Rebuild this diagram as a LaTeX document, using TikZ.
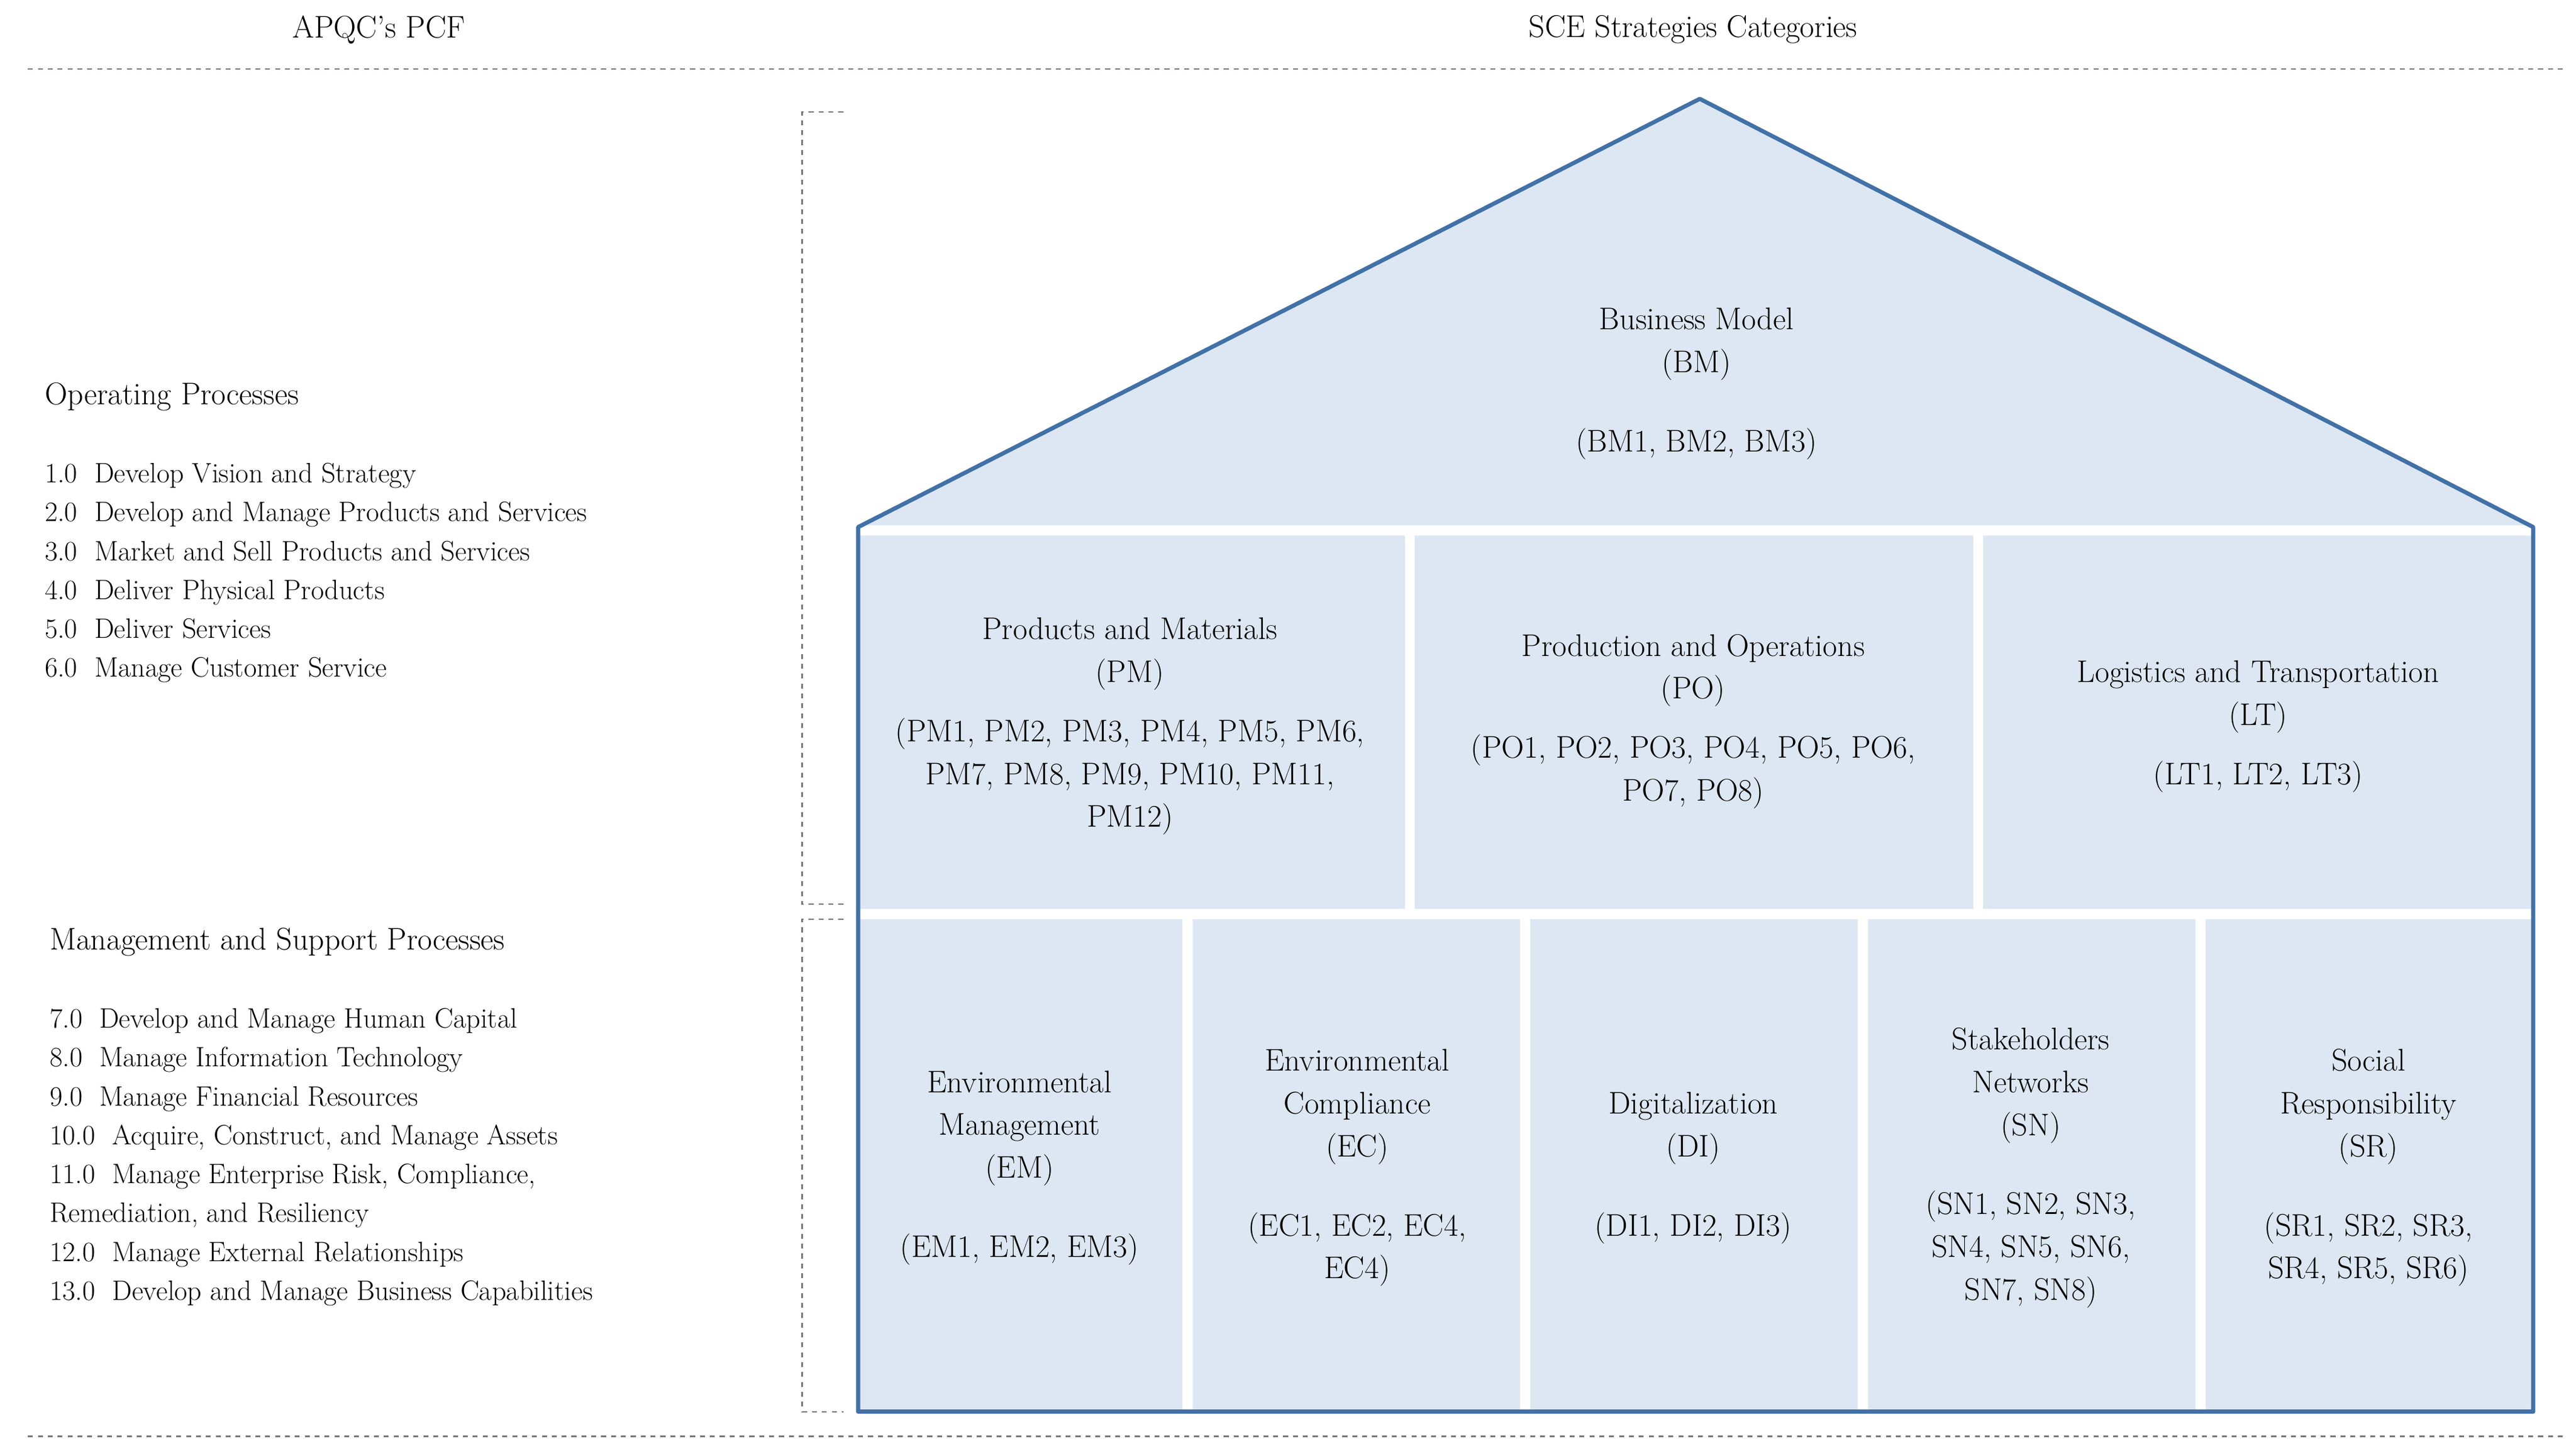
\documentclass[tikz,border=0pt]{standalone}
\usepackage{tikz}
\usetikzlibrary{positioning}
\definecolor{houseblue}{RGB}{65,113,166}
\definecolor{housefill}{RGB}{221,231,243}
\definecolor{dashgray}{RGB}{120,120,120}
\begin{document}
\begin{tikzpicture}[x=1pt,y=-1pt,
cellnode/.style={align=center, font=\fontsize{19}{26}\selectfont, inner sep=0pt},
listnode/.style={align=left, anchor=north west, font=\fontsize{17}{23.6}\selectfont, inner sep=0pt},
headnode/.style={font=\fontsize{19}{24}\selectfont, inner sep=0pt},
bracket/.style={dashgray, dashed, thick},
gap/.style={white, line width=6pt},
]
\useasboundingbox (0,0) rectangle (1564,882);
%Headers
\node[headnode] (pcf) at (230,18) {APQC's PCF};
\node[headnode] (sce) at (1028,18) {SCE Strategies Categories};
\draw[bracket] (17,42) -- (1558,42);
\draw[bracket] (17,872) -- (1558,872);

%House
\fill[housefill] (521,857) -- (521,320) -- (1032,60) -- (1538,320) -- (1538,857) -- cycle;
\draw[gap] (521,322) -- (1538,322);
\draw[gap] (521,555) -- (1538,555);
\draw[gap] (856,322) -- (856,555);
\draw[gap] (1201,322) -- (1201,555);
\foreach \xx in {721,926,1131,1336}
  \draw[gap] (\xx,555) -- (\xx,857);
\draw[houseblue, line width=2.5pt, line join=round] (521,857) -- (521,320) -- (1032,60) -- (1538,320) -- (1538,857) -- cycle;

%Brackets
\draw[bracket] (512,68) -- (487,68) -- (487,549) -- (512,549);
\draw[bracket] (512,558) -- (487,558) -- (487,857) -- (512,857);

%Cells
\node[cellnode] (bm) at (1030,233) {Business Model\\(BM)\\[22pt](BM1, BM2, BM3)};
\node[cellnode] (pm) at (686,441) {Products and Materials\\(PM)\\[10pt](PM1, PM2, PM3, PM4, PM5, PM6,\\PM7, PM8, PM9, PM10, PM11,\\PM12)};
\node[cellnode] (po) at (1028,438) {Production and Operations\\(PO)\\[10pt](PO1, PO2, PO3, PO4, PO5, PO6,\\PO7, PO8)};
\node[cellnode] (lt) at (1371,441) {Logistics and Transportation\\(LT)\\[10pt](LT1, LT2, LT3)};
\node[cellnode] (em) at (619,709) {Environmental\\Management\\(EM)\\[22pt](EM1, EM2, EM3)};
\node[cellnode] (ec) at (824,709) {Environmental\\Compliance\\(EC)\\[22pt](EC1, EC2, EC4,\\EC4)};
\node[cellnode] (di) at (1028,709) {Digitalization\\(DI)\\[22pt](DI1, DI2, DI3)};
\node[cellnode] (sn) at (1233,709) {Stakeholders\\Networks\\(SN)\\[22pt](SN1, SN2, SN3,\\SN4, SN5, SN6,\\SN7, SN8)};
\node[cellnode] (sr) at (1438,709) {Social\\Responsibility\\(SR)\\[22pt](SR1, SR2, SR3,\\SR4, SR5, SR6)};

%Left lists
\node[headnode, anchor=west] (op) at (27,241) {Operating Processes};
\node[listnode] (oplist) at (27,281) {1.0\ \ Develop Vision and Strategy\\2.0\ \ Develop and Manage Products and Services\\3.0\ \ Market and Sell Products and Services\\4.0\ \ Deliver Physical Products\\5.0\ \ Deliver Services\\6.0\ \ Manage Customer Service};
\node[headnode, anchor=west] (ms) at (30,572) {Management and Support Processes};
\node[listnode] (mslist) at (30,612) {7.0\ \ Develop and Manage Human Capital\\8.0\ \ Manage Information Technology\\9.0\ \ Manage Financial Resources\\10.0\ \ Acquire, Construct, and Manage Assets\\11.0\ \ Manage Enterprise Risk, Compliance,\\Remediation, and Resiliency\\12.0\ \ Manage External Relationships\\13.0\ \ Develop and Manage Business Capabilities};
\end{tikzpicture}
\end{document}
